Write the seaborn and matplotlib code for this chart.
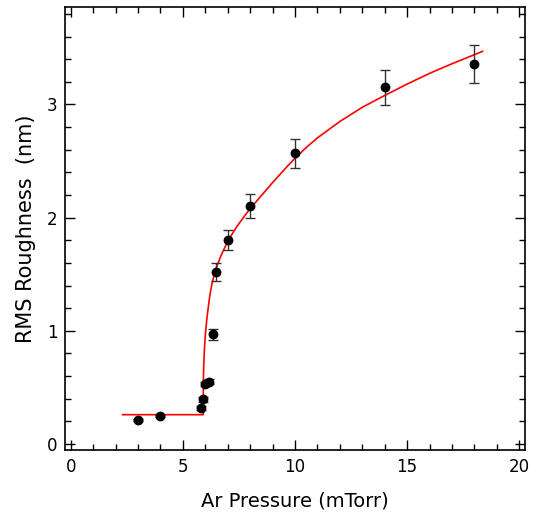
"""RMS roughness vs Ar pressure with fitted curve."""

import matplotlib

matplotlib.use("Agg")
import matplotlib.pyplot as plt
import pandas as pd
import seaborn as sns
from matplotlib.ticker import MultipleLocator

# measured points
pressure = [3.0, 4.0, 5.80, 5.88, 5.99, 6.18, 6.33, 6.49, 7.0, 8.0, 10.0, 14.0, 18.0]
roughness = [0.21, 0.25, 0.32, 0.395, 0.53, 0.55, 0.97, 1.52, 1.80, 2.10, 2.57, 3.15, 3.36]
roughness_err = [0.01, 0.01, 0.02, 0.02, 0.02, 0.02, 0.05, 0.077, 0.088, 0.106, 0.128, 0.156, 0.166]

# fitted curve
fit_x = [2.30, 5.91, 5.91, 5.93, 5.96, 6.00, 6.05, 6.10, 6.20, 6.30, 6.40, 6.55, 6.70,
         6.90, 7.10, 7.40, 7.75, 8.00, 8.50, 9.00, 9.50, 10.0, 10.5, 11.0, 12.0, 13.0,
         14.0, 15.0, 16.0, 17.0, 18.0, 18.37]
fit_y = [0.259, 0.259, 0.55, 0.70, 0.84, 0.96, 1.07, 1.16, 1.31, 1.42, 1.50, 1.59, 1.665,
         1.75, 1.825, 1.92, 2.015, 2.08, 2.195, 2.31, 2.42, 2.525, 2.62, 2.705, 2.85, 2.975,
         3.08, 3.18, 3.275, 3.36, 3.44, 3.47]

sns.set_style("ticks")
plt.rcParams["font.family"] = ["DejaVu Sans"]
plt.rcParams["text.color"] = "black"
plt.rcParams["axes.labelcolor"] = "black"
plt.rcParams["xtick.color"] = "black"
plt.rcParams["ytick.color"] = "black"

points = pd.DataFrame({"p": pressure, "r": roughness, "err": roughness_err})
fit = pd.DataFrame({"p": fit_x, "r": fit_y})

fig = plt.figure(figsize=(5.33, 5.14), dpi=100)
ax = fig.add_axes([0.1214, 0.1245, 0.863, 0.8625])

sns.lineplot(data=fit, x="p", y="r", sort=False, estimator=None, color="red",
             linewidth=1.2, ax=ax, zorder=2)
ax.errorbar(points["p"], points["r"], yerr=points["err"], fmt="none",
            ecolor="#333333", elinewidth=1.0, capsize=3.5, capthick=1.0, zorder=3)
sns.scatterplot(data=points, x="p", y="r", color="black", s=50, edgecolor="black",
                linewidth=0, ax=ax, zorder=4)

ax.set_xlim(-0.27, 20.24)
ax.set_ylim(-0.053, 3.864)
ax.xaxis.set_major_locator(MultipleLocator(5))
ax.xaxis.set_minor_locator(MultipleLocator(1))
ax.yaxis.set_major_locator(MultipleLocator(1))
ax.yaxis.set_minor_locator(MultipleLocator(0.2))
ax.tick_params(which="both", direction="in", top=True, right=True, color="black",
               labelcolor="black", labelsize=12, width=1.0)
ax.tick_params(which="major", length=7)
ax.tick_params(which="minor", length=4)
ax.tick_params(axis="x", which="major", pad=6)
ax.tick_params(axis="y", which="major", pad=5)
for s in ax.spines.values():
    s.set_linewidth(1.2)
    s.set_color("black")

ax.set_xlabel("Ar Pressure (mTorr)", fontsize=14, labelpad=11)
ax.set_ylabel("RMS Roughness  (nm)", fontsize=15, labelpad=8)

fig.savefig("out.png", dpi=100)
plt.close(fig)
